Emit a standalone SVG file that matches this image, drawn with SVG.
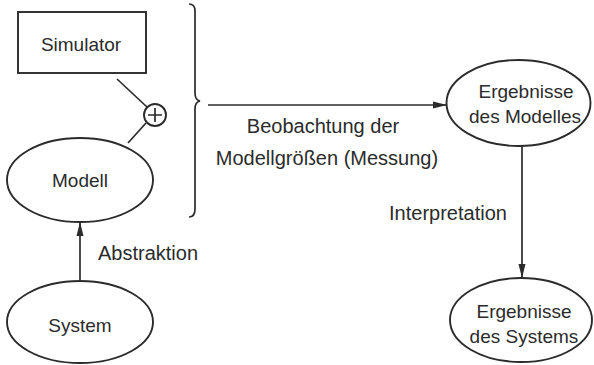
<svg xmlns="http://www.w3.org/2000/svg" width="594" height="365" viewBox="0 0 594 365">
  <style>
    .shape { fill: none; stroke: #2b2b2b; stroke-width: 1.9; }
    .line { fill: none; stroke: #2b2b2b; stroke-width: 1.7; }
    text { font-family: "Liberation Sans", Arial, sans-serif; font-size: 20px; fill: #2b2b2b; text-anchor: middle; }
    .node-label { font-size: 19px; }
  </style>
  <defs>
    <marker id="arrow" viewBox="0 0 14 8" refX="14" refY="4" markerWidth="14" markerHeight="8" markerUnits="userSpaceOnUse" orient="auto">
      <path d="M0,0.5 L14,4 L0,7.5 Z" fill="#2b2b2b"/>
    </marker>
  </defs>
  <rect width="594" height="365" fill="#ffffff"/>

  <g id="simulator">
    <rect class="shape" x="18" y="12" width="128" height="61"/>
    <text class="node-label" x="81" y="51">Simulator</text>
  </g>

  <g id="plus">
    <circle class="shape" cx="155" cy="115" r="11"/>
    <path class="line" d="M148,115 H162 M155,108 V122" stroke-width="2.2"/>
  </g>

  <g id="modell">
    <ellipse class="shape" cx="80" cy="180" rx="73" ry="42"/>
    <text class="node-label" x="80" y="187">Modell</text>
  </g>

  <g id="system">
    <ellipse class="shape" cx="80" cy="322" rx="73" ry="41"/>
    <text class="node-label" x="80" y="332">System</text>
  </g>

  <g id="bracket">
    <path class="line" d="M189,4 Q195,4 195,11 V93 Q195,100 200,101 Q195,102 195,109 V209 Q195,217 189,217"/>
  </g>

  <g id="ergebnisse-modell">
    <ellipse class="shape" cx="518.5" cy="103" rx="72" ry="43"/>
    <text class="node-label" x="526" y="98">Ergebnisse</text>
    <text class="node-label" x="525" y="123">des Modelles</text>
  </g>

  <g id="ergebnisse-system">
    <ellipse class="shape" cx="521" cy="320" rx="71" ry="42"/>
    <text class="node-label" x="524" y="318">Ergebnisse</text>
    <text class="node-label" x="524" y="343">des Systems</text>
  </g>

  <g id="connectors">
    <line class="line" x1="117" y1="79" x2="147" y2="107"/>
    <line class="line" x1="146" y1="123" x2="128" y2="143"/>
    <line class="line" x1="208" y1="105" x2="447" y2="105" marker-end="url(#arrow)"/>
    <line class="line" x1="80" y1="280" x2="80" y2="222" marker-end="url(#arrow)"/>
    <line class="line" x1="522" y1="146" x2="522" y2="278" marker-end="url(#arrow)"/>
  </g>

  <g id="labels">
    <text x="323" y="133">Beobachtung der</text>
    <text x="327" y="165">Modellgrößen (Messung)</text>
    <text x="148" y="260">Abstraktion</text>
    <text x="448" y="220">Interpretation</text>
  </g>
</svg>
